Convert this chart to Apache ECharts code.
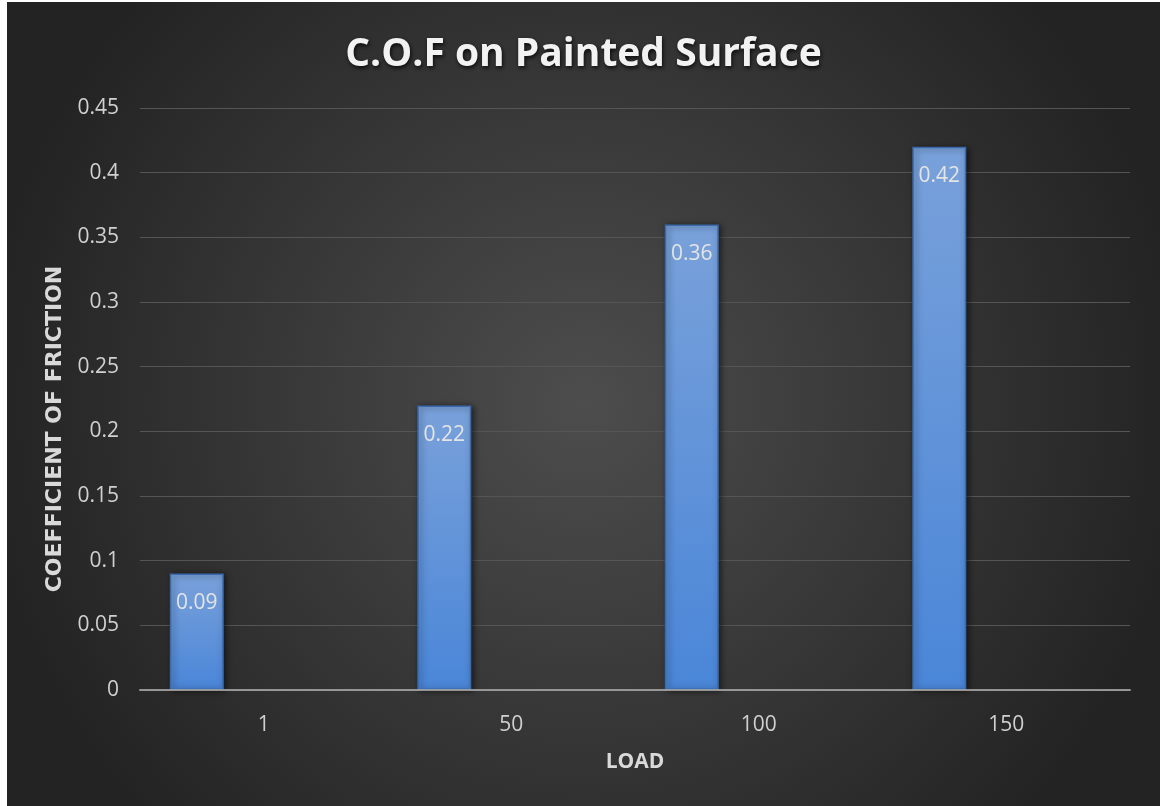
<!DOCTYPE html>
<html>
<head>
<meta charset="utf-8">
<style>
  html, body { margin: 0; padding: 0; background: #ffffff; }
  #chart { position: absolute; left: 7px; top: 2px; width: 1153px; height: 804px; }
</style>
<script src="https://cdn.jsdelivr.net/npm/echarts@6/dist/echarts.min.js"></script>
</head>
<body>
<div id="chart"></div>
<script>
// Load levels and measured coefficient of friction
const loads = ['1', '50', '100', '150'];
const cof = [0.09, 0.22, 0.36, 0.42];
// Empty companion series keeps the bars on the left half of each slot
const spare = ['-', '-', '-', '-'];

const chart = echarts.init(document.getElementById('chart'));

// Blue bar body: greyer light top fading into a saturated blue base
const barFill = {
  type: 'linear', x: 0, y: 0, x2: 0, y2: 1,
  colorStops: [
    { offset: 0, color: '#79a1da' },
    { offset: 1, color: '#4a86d8' }
  ]
};

chart.setOption({
  backgroundColor: {
    type: 'radial', x: 0.5, y: 0.5, r: 0.75,
    colorStops: [
      { offset: 0, color: '#4d4d4d' },
      { offset: 1, color: '#232323' }
    ]
  },
  title: {
    text: 'C.O.F on Painted Surface',
    left: 'center',
    top: 28,
    textStyle: {
      color: '#f2f2f2',
      fontFamily: 'Open Sans',
      fontWeight: 'bold',
      fontSize: 39,
      textShadowColor: 'rgba(0,0,0,0.8)',
      textShadowBlur: 4,
      textShadowOffsetX: 1,
      textShadowOffsetY: 2
    }
  },
  grid: { left: 133, right: 30, top: 106, bottom: 116 },
  xAxis: {
    type: 'category',
    data: loads,
    z: 5,
    name: 'LOAD',
    nameLocation: 'middle',
    nameGap: 62,
    nameTextStyle: { color: '#d9d9d9', fontFamily: 'Open Sans', fontWeight: 'bold', fontSize: 21 },
    axisLine: { lineStyle: { color: '#a6a6a6', width: 2, opacity: 0.85 } },
    axisTick: { show: false },
    axisLabel: { color: '#d0d0d0', fontFamily: 'Open Sans', fontSize: 21, margin: 25 }
  },
  yAxis: {
    type: 'value',
    min: 0,
    max: 0.45,
    interval: 0.05,
    name: 'COEFFICIENT OF FRICTION',
    nameLocation: 'middle',
    nameRotate: 90,
    nameGap: 74,
    nameTextStyle: {
      color: '#d9d9d9', fontFamily: 'DejaVu Sans', fontWeight: 'bold', fontSize: 22,
      padding: [0, 60, 0, 0]
    },
    axisLine: { show: false },
    axisTick: { show: false },
    axisLabel: {
      color: '#d0d0d0', fontFamily: 'Open Sans', fontSize: 21, margin: 21,
      formatter: v => String(parseFloat(v.toFixed(2)))
    },
    splitLine: { lineStyle: { color: '#555555', width: 1 } }
  },
  series: [
    {
      type: 'bar',
      data: cof,
      barWidth: 54,
      barGap: '148%',
      itemStyle: {
        color: barFill,
        borderColor: '#3a6aab',
        borderWidth: 1.5,
        shadowColor: 'rgba(0,0,0,0.55)',
        shadowBlur: 6,
        shadowOffsetX: 2,
        shadowOffsetY: 1
      },
      label: {
        show: true,
        position: 'insideTop',
        distance: 19,
        color: '#e4e4e4',
        fontFamily: 'Open Sans',
        fontSize: 21,
        formatter: p => String(p.value)
      }
    },
    {
      type: 'bar',
      data: spare,
      barWidth: 54
    }
  ]
});
</script>
</body>
</html>
